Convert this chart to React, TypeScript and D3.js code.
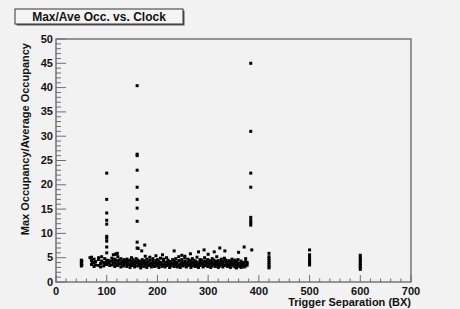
import { useEffect } from 'react';
import * as d3 from 'd3';

// Dense band: trigger separation (BX) with the max/ave values seen at it
const bandX = [
  50, 51, 70, 72, 75, 78, 84, 88, 90, 94, 96, 100, 104, 106, 110, 113, 116, 119, 122, 125,
  128, 131, 134, 137, 140, 143, 146, 149, 152, 155, 158, 161, 164, 167, 170, 173, 176, 179,
  182, 185, 188, 191, 194, 197, 200, 203, 206, 209, 212, 215, 218, 221, 224, 227, 230, 233,
  236, 239, 242, 245, 248, 251, 254, 257, 260, 263, 266, 269, 272, 275, 278, 281, 284, 287,
  290, 293, 296, 299, 302, 305, 308, 311, 314, 317, 320, 323, 326, 329, 332, 335, 338, 341,
  344, 347, 350, 353, 356, 359, 362, 365, 368, 371, 374, 377,
];
const bandY = [
  [3.3, 3.7, 4.1, 4.5], [3.5, 4.3], [3.6, 4.4, 5.1], [3.9], [3.2, 4.0, 4.7], [3.5, 4.2],
  [3.4, 4.6, 5.0], [3.1, 3.8], [4.3, 5.2], [3.3, 4.0], [3.7, 4.8], [3.6, 4.2, 4.5],
  [3.9, 4.4], [3.4, 4.1], [3.5, 4.3, 4.9], [3.8, 4.6, 5.6], [3.2, 4.0, 4.7], [3.6, 4.4, 5.8],
  [3.4, 4.1, 5.2], [3.7, 4.5], [3.1, 3.9, 4.8], [3.5, 4.2], [3.3, 4.0, 4.6], [3.8, 4.4],
  [3.2, 3.9, 4.7], [3.6, 4.3], [3.0, 3.7, 4.5], [3.4, 4.1, 5.0], [3.8, 4.6], [3.1, 3.5, 4.2],
  [3.9, 4.8], [3.3, 4.0, 4.5], [3.6, 4.3], [2.9, 3.4, 4.1], [3.7, 4.6], [3.2, 3.9, 4.4],
  [3.5, 4.2, 5.3], [3.0, 3.8, 4.7], [3.4, 4.1], [3.6, 4.5, 5.1], [3.1, 3.9], [3.5, 4.3, 4.8],
  [3.2, 4.0], [3.7, 4.4, 5.4], [3.3, 3.8, 4.6], [3.0, 4.2], [3.6, 4.0, 4.9], [3.2, 3.7],
  [3.5, 4.3, 4.7], [3.1, 3.9], [3.4, 4.1, 5.0], [3.7, 4.5], [3.0, 3.6, 4.2], [3.3, 4.0],
  [3.8, 4.6], [3.2, 3.5, 4.3], [3.6, 4.1, 4.8], [3.1, 3.9], [3.4, 4.4, 5.2], [3.0, 3.7],
  [3.5, 4.2, 4.6], [3.3, 3.9], [3.6, 4.3, 5.0], [3.1, 3.8], [3.4, 4.1, 4.7], [3.7, 4.5],
  [3.0, 3.5, 4.2], [3.3, 4.0, 4.8], [3.6, 4.4], [3.2, 3.8, 4.3], [3.5, 4.1, 5.1], [3.0, 3.7],
  [3.4, 4.2, 4.6], [3.8, 4.5], [3.1, 3.6, 4.0], [3.4, 4.3, 5.0], [3.7, 4.1], [3.2, 3.9, 4.6],
  [3.5, 4.4], [3.0, 3.7, 4.2], [3.3, 4.0, 4.8], [3.6, 4.5], [3.2, 3.8, 4.3], [3.5, 4.1, 5.2],
  [3.0, 3.6, 4.4], [3.3, 3.9], [3.7, 4.2, 4.7], [3.1, 3.5, 4.0], [3.4, 4.3, 4.9], [3.8, 4.5],
  [3.2, 3.7, 4.1], [3.5, 4.4], [3.0, 3.6, 4.2], [3.3, 3.9, 4.7], [3.6, 4.3], [3.1, 3.8, 4.5],
  [2.9, 3.4, 4.1], [3.6, 4.6], [3.2, 3.9], [3.0, 3.5, 4.3], [3.4, 4.0], [3.1, 3.7],
  [3.3, 4.2, 4.8], [3.5, 4.0],
];

// Scattered points above the band
const outX = [67, 117, 121, 162, 169, 175, 210, 233, 248, 254, 265, 281, 292, 300, 312, 323, 333, 360, 371, 386];
const outY = [5.0, 5.7, 5.9, 6.9, 6.4, 7.6, 5.6, 6.4, 5.5, 5.3, 5.8, 6.2, 6.6, 5.7, 6.2, 7.0, 6.4, 6.1, 7.2, 6.6];

// Vertical spikes and isolated clusters
const spikeX = [100, 160, 384, 420, 500, 600];
const spikeY = [
  [22.4, 17.0, 14.2, 12.7, 11.9, 9.4, 9.0, 8.4, 7.2, 6.0],
  [40.4, 26.3, 26.0, 23.0, 19.5, 17.0, 15.2, 12.5, 8.2, 7.0],
  [45.0, 31.0, 22.4, 19.5, 13.3, 12.7, 12.2, 11.7],
  [5.9, 5.2, 4.8, 4.4, 4.0, 3.6, 3.2, 2.9],
  [6.6, 5.6, 5.1, 4.6, 4.2, 3.8, 3.5],
  [5.5, 5.0, 4.6, 4.2, 3.8, 3.4, 3.0, 2.6],
];

const xTicks = [0, 100, 200, 300, 400, 500, 600, 700];
const yTicks = [0, 5, 10, 15, 20, 25, 30, 35, 40, 45, 50];

const W = 460;
const H = 309;
const left = 56;
const right = 411;
const top = 39;
const bottom = 282;
const font = '"Liberation Sans", Arial, Helvetica, sans-serif';
const axisColor = '#6e6e6e';

export default function App() {
  useEffect(() => {
    document.body.style.margin = '0';
  }, []);

  const x = d3.scaleLinear().domain([0, 700]).range([left, right]);
  const y = d3.scaleLinear().domain([0, 50]).range([bottom, top]);

  const points: [number, number][] = [];
  bandX.forEach((bx, i) => (bandY[i] || []).forEach((v) => points.push([bx, v])));
  outX.forEach((ox, i) => points.push([ox, outY[i]]));
  spikeX.forEach((sx, i) => spikeY[i].forEach((v) => points.push([sx, v])));

  const xMinor = d3.range(0, 701, 20);
  const yMinor = d3.range(0, 51, 1);
  const ms = 3;

  return (
    <svg width={W} height={H} style={{ display: 'block' }} fontFamily={font}>
      <rect width={W} height={H} fill="#f2f2f2" />

      {/* title box */}
      <rect x={16.5} y={10.5} width={168} height={15} fill="#555" />
      <rect x={15} y={9} width={168} height={15} fill="#f4f4f4" stroke="#333" strokeWidth={1} />
      <text x={99} y={20.5} textAnchor="middle" fontSize={12} fontWeight="bold" fill="#111">
        Max/Ave Occ. vs. Clock
      </text>

      {/* frame */}
      <rect
        x={left}
        y={top}
        width={right - left}
        height={bottom - top}
        fill="#f2f2f2"
        stroke={axisColor}
        strokeWidth={1.4}
      />

      {/* y ticks */}
      {yMinor.map((v) => (
        <line
          key={`ym${v}`}
          x1={left}
          x2={left + (v % 5 === 0 ? 10 : 5)}
          y1={y(v)}
          y2={y(v)}
          stroke={axisColor}
          strokeWidth={1}
        />
      ))}
      {yTicks.map((v) => (
        <text
          key={`yt${v}`}
          x={left - 3}
          y={y(v) + 3.5}
          textAnchor="end"
          fontSize={11}
          fontWeight="bold"
          fill="#111"
        >
          {v}
        </text>
      ))}

      {/* x ticks */}
      {xMinor.map((v) => (
        <line
          key={`xm${v}`}
          x1={x(v)}
          x2={x(v)}
          y1={bottom}
          y2={bottom - (v % 100 === 0 ? 7 : 3.5)}
          stroke={axisColor}
          strokeWidth={1}
        />
      ))}
      {xTicks.map((v) => (
        <text
          key={`xt${v}`}
          x={x(v)}
          y={bottom + 13}
          textAnchor="middle"
          fontSize={11}
          fontWeight="bold"
          fill="#111"
        >
          {v}
        </text>
      ))}

      {/* axis titles */}
      <text x={right} y={bottom + 24} textAnchor="end" fontSize={11} fontWeight="bold" fill="#111">
        Trigger Separation (BX)
      </text>
      <text
        transform={`translate(29,${top + 4}) rotate(-90)`}
        textAnchor="end"
        fontSize={11}
        fontWeight="bold"
        fill="#111"
      >
        Max Occupancy/Average Occupancy
      </text>

      {/* markers */}
      {points.map(([px, py], i) => (
        <rect key={i} x={x(px) - ms / 2} y={y(py) - ms / 2} width={ms} height={ms} fill="#000" />
      ))}
    </svg>
  );
}
